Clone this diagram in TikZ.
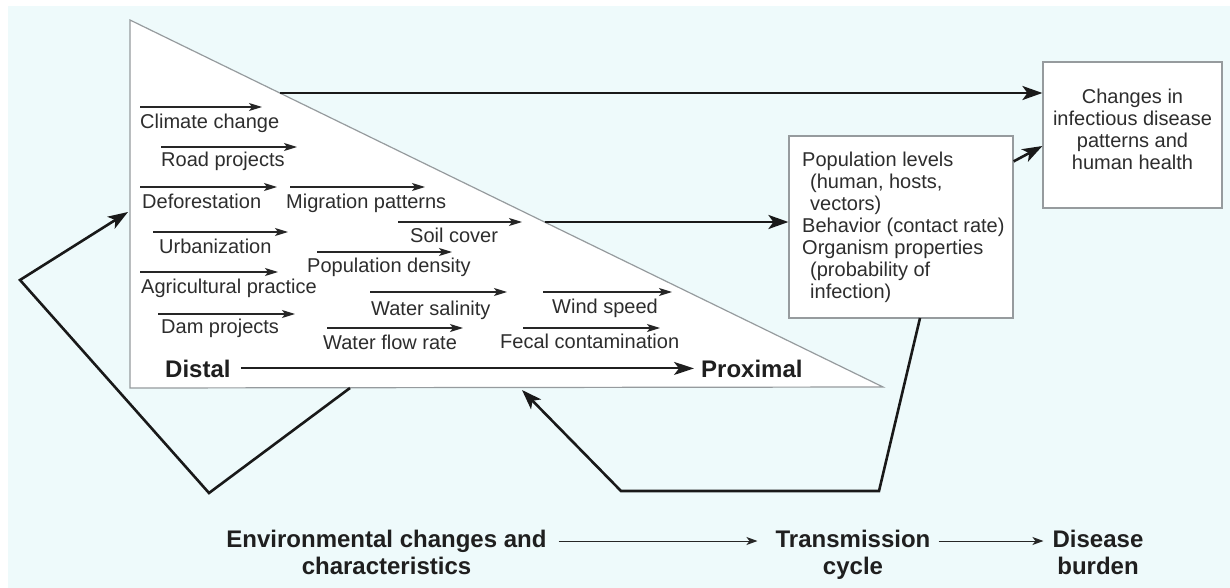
\documentclass[tikz,border=0pt]{standalone}
\usepackage{fontspec}
\setmainfont{Liberation Sans}
\usetikzlibrary{positioning,calc,arrows.meta}
\definecolor{bgcyan}{RGB}{238,250,251}
\definecolor{txtgray}{RGB}{45,45,45}
\definecolor{edgegray}{RGB}{150,155,158}
\tikzset{fac/.style={anchor=base west,inner sep=0pt,text=txtgray,font=\fontsize{20}{22}\selectfont}}
\tikzset{facarr/.style={-{Stealth[length=13pt,width=8pt,inset=3pt]},line width=1.3pt,black!85}}
\tikzset{bigarr/.style={-{Stealth[length=20pt,width=14pt,inset=5pt]},line width=2.6pt,black!90,line join=miter}}
\tikzset{box/.style={draw=edgegray,line width=1.2pt,fill=white,inner sep=0pt}}
\tikzset{boldlbl/.style={font=\bfseries\fontsize{24}{27}\selectfont,text=black!88,inner sep=0pt}}
\tikzset{thinarr/.style={-{Stealth[length=11pt,width=8pt,inset=3pt]},line width=1pt,black!85}}

\begin{document}
\begin{tikzpicture}[x=1pt,y=-1pt]
\useasboundingbox (0,0) rectangle (1230,588);
\fill[bgcyan] (8,6) rectangle (1230,588);

% the distal-proximal triangle
\draw[fill=white,draw=edgegray,line width=1.2pt] (130,20) -- (130,388) -- (883,387) -- cycle;

% boxes
\node[box,minimum width=179pt,minimum height=146pt] (health) at (1132.5,135) {};
\node[align=center,inner sep=0pt,text=txtgray,font=\fontsize{20}{22}\selectfont] (htxt) at (1132.5,129)
	{Changes in\\infectious disease\\patterns and\\human health};
\node[box,minimum width=224pt,minimum height=182pt] (cycle) at (901,227) {};
\node[anchor=north west,align=left,inner sep=0pt,text=txtgray,font=\fontsize{20}{22}\selectfont] (ctxt) at (802,152)
	{Population levels\\\hspace*{8pt}(human, hosts,\\\hspace*{8pt}vectors)\\Behavior (contact rate)\\Organism properties\\\hspace*{8pt}(probability of\\\hspace*{8pt}infection)};

% factors inside the triangle
\foreach \nm/\tx/\lx/\ly/\ax/\bx/\ay in {
	clim/Climate change/140/129/140/262/107,
	road/Road projects/161/167/161/297/147,
	defo/Deforestation/142/208/140/277/187,
	migr/Migration patterns/286/208/290/425/187,
	urb/Urbanization/159/253/153/288/232,
	soil/Soil cover/410/242/398/522/222,
	popd/Population density/307/272/317/452/252,
	agri/Agricultural practice/141/293/140/278/272,
	wsal/Water salinity/371/315/370/507/292,
	wind/Wind speed/552/313/543/672/292,
	dam/Dam projects/161/333/158/295/314,
	wflow/Water flow rate/323/349/327/463/328,
	fecal/Fecal contamination/500/348/523/660/328}
{
	\node[fac] (\nm) at (\lx,\ly) {\tx};
	\coordinate (\nm-a) at (\ax,\ay);
	\coordinate (\nm-b) at (\bx,\ay);
	\draw[facarr] (\nm-a) -- (\nm-b);
}

\node[boldlbl,anchor=base west] (distal) at (165,377) {Distal};
\node[boldlbl,anchor=base west] (proximal) at (701,377) {Proximal};
\draw[-{Stealth[length=20pt,width=13pt,inset=5pt]},line width=2pt,black!88,shorten <=10pt,shorten >=7pt] (distal.east) -- (proximal.west);

% main connectors
\coordinate (hyp1) at (280,93);
\coordinate (hyp2) at (544.5,222);
\draw[bigarr] (hyp1) -- (hyp1 -| health.west);
\draw[bigarr] (hyp2) -- (hyp2 -| cycle.west);
\draw[bigarr] ($(cycle.north east)+(0,26)$) -- ($(health.west)+(0,11)$);

% feedback loops
\coordinate (lp0) at (350,388);
\coordinate (lp1) at (209,493);
\coordinate (lp2) at (20,280);
\coordinate (lp3) at (128,212);
\draw[bigarr] (lp0) -- (lp1) -- (lp2) -- (lp3);
\coordinate (rp0) at (920,318);
\coordinate (rp1) at (879,491);
\coordinate (rp2) at (621,491);
\coordinate (rp3) at (522,390);
\draw[bigarr] (rp0) -- (rp1) -- (rp2) -- (rp3);

% bottom row
\node[boldlbl,align=center,anchor=north] (env) at (386.5,530) {Environmental changes and\\characteristics};
\node[boldlbl,align=center,anchor=north] (trans) at (853,530) {Transmission\\cycle};
\node[boldlbl,align=center,anchor=north] (dis) at (1098,530) {Disease\\burden};
\coordinate (rowy) at (0,541);
\draw[thinarr,shorten <=12pt,shorten >=18pt] (env.east |- rowy) -- (trans.west |- rowy);
\draw[thinarr,shorten <=8pt,shorten >=9pt] (trans.east |- rowy) -- (dis.west |- rowy);
\end{tikzpicture}
\end{document}
